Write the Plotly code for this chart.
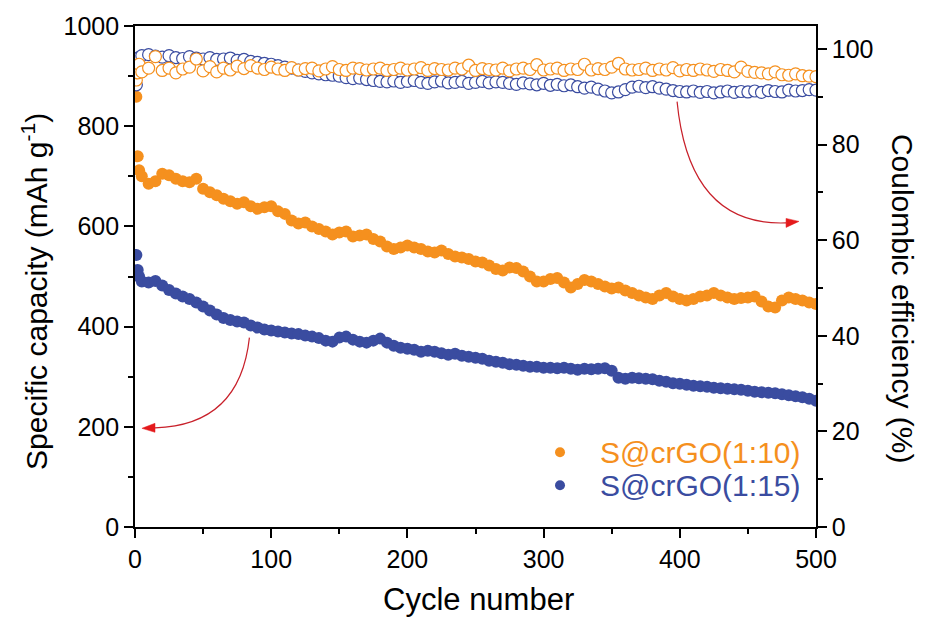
import plotly.graph_objects as go

# Cycle index: first three cycles, then every 5th cycle
cycles = [1, 2, 3] + list(range(5, 501, 5))

# Specific discharge capacity (mAh g-1)
cap_110 = [859, 740, 712,
           700, 685, 690, 705, 702, 695, 690, 688, 695, 675,
           668, 662, 655, 650, 645, 648, 640, 635, 638, 640,
           630, 625, 612, 606, 608, 600, 595, 590, 584, 588,
           590, 580, 582, 584, 575, 570, 560, 555, 558, 562,
           558, 555, 550, 548, 552, 545, 540, 538, 535, 530,
           528, 522, 515, 512, 518, 517, 510, 500, 490, 490,
           495, 497, 488, 478, 485, 493, 490, 485, 480, 476,
           478, 472, 467, 462, 458, 455, 462, 467, 460, 455,
           452, 455, 460, 462, 467, 462, 458, 455, 457, 458,
           460, 450, 440, 438, 452, 458, 455, 452, 448, 445]

cap_115 = [543, 513, 500,
           490, 488, 491, 482, 473, 466, 460, 455, 448, 440,
           432, 424, 417, 413, 410, 408, 402, 398, 394, 392,
           390, 388, 386, 385, 382, 380, 377, 372, 370, 378,
           380, 374, 370, 368, 372, 376, 368, 362, 358, 356,
           354, 350, 352, 350, 347, 344, 346, 342, 340, 338,
           336, 332, 330, 328, 325, 324, 322, 320, 320, 318,
           318, 317, 318, 316, 314, 316, 315, 316, 317, 312,
           298, 296, 298, 297, 296, 295, 292, 290, 287, 286,
           284, 282, 281, 280, 278, 277, 276, 275, 274, 272,
           270, 269, 268, 267, 265, 263, 261, 259, 256, 252]

# Coulombic efficiency (%)
ce_110 = [93.5, 95.0, 96.8,
          95.2, 96.0, 98.4, 95.5, 96.0, 95.0, 95.8, 96.2, 97.9, 95.4,
          96.3, 95.2, 96.0, 95.6, 96.4, 95.9, 96.5, 96.0, 95.7, 96.2,
          95.8, 95.5, 96.1, 95.6, 95.9, 96.0, 95.4, 95.8, 96.3, 95.7,
          95.5, 96.0, 95.9, 95.6, 95.8, 96.0, 95.5, 95.7, 96.0, 95.6,
          95.8, 96.1, 95.5, 95.9, 95.7, 95.6, 96.0, 95.8, 96.6, 95.5,
          95.9, 95.7, 95.6, 96.0, 95.4, 95.8, 96.0, 95.7, 96.7, 95.6,
          95.8, 96.0, 95.5, 95.8, 95.7, 96.8, 95.6, 95.9, 95.7, 96.2,
          97.0, 95.8, 95.6, 95.7, 96.0, 95.5, 95.8, 95.6, 96.1, 95.4,
          95.7, 95.5, 95.8, 95.6, 95.3, 95.7, 95.5, 95.2, 96.2, 95.3,
          95.1, 95.0, 94.8, 95.2, 94.6, 94.5, 94.8, 94.4, 94.3, 94.2]

ce_115 = [92.5, 97.0, 98.2,
          98.6, 98.8, 98.5, 98.3, 98.6, 98.2, 98.0, 98.4, 98.1, 97.9,
          98.2, 97.8, 97.9, 98.1, 97.6, 97.8, 97.4, 97.2, 97.0, 96.8,
          96.5, 96.2, 96.0, 95.6, 95.3, 95.0, 94.8, 94.6, 94.5, 94.3,
          94.0, 93.8, 93.9, 93.6, 93.4, 93.2, 93.1, 93.3, 93.0, 93.2,
          93.4, 93.0, 92.8, 93.1, 93.3, 92.9, 93.0, 93.2, 92.8, 93.0,
          93.2, 92.9, 93.1, 93.0, 92.8, 92.6, 92.9, 92.7, 92.5, 92.8,
          92.4, 92.6, 92.3, 92.5, 92.1, 91.8, 92.0, 91.6, 91.2, 90.8,
          91.0, 91.5, 92.0, 92.2, 91.9, 92.1, 91.8, 91.6, 91.3, 91.1,
          91.0, 91.2, 90.9, 91.1, 90.8, 91.0, 91.2, 90.9, 91.1, 91.0,
          91.2, 90.9, 91.3, 91.1, 91.0, 91.4, 91.2, 91.3, 91.5, 91.4]

series_labels = ["S@crGO(1:10)", "S@crGO(1:15)"]

ORANGE = "#F5901E"
BLUE = "#3A4CA0"
FONT = "Liberation Sans, Arial, sans-serif"

fig = go.Figure()

# Coulombic efficiency: open circles on the right axis
fig.add_trace(go.Scatter(
    x=cycles, y=ce_115, mode="markers", yaxis="y2", showlegend=False,
    marker=dict(symbol="circle", size=12, color="white",
                line=dict(color=BLUE, width=1.2))))
fig.add_trace(go.Scatter(
    x=cycles, y=ce_110, mode="markers", yaxis="y2", showlegend=False,
    marker=dict(symbol="circle", size=12, color="white",
                line=dict(color=ORANGE, width=1.2))))

# Specific capacity: filled circles on the left axis
fig.add_trace(go.Scatter(
    x=cycles, y=cap_110, mode="markers", name=series_labels[0],
    showlegend=False, marker=dict(symbol="circle", size=12, color=ORANGE)))
fig.add_trace(go.Scatter(
    x=cycles, y=cap_115, mode="markers", name=series_labels[1],
    showlegend=False, marker=dict(symbol="circle", size=12, color=BLUE)))

# Curved guide arrows pointing to each axis
CURVE = "#C8202A"
HEAD = "#E41A1C"
fig.add_shape(type="path", xref="x", yref="y",
              path="M 84,378 Q 77,203 14.7,198",
              line=dict(color=CURVE, width=1.2))
fig.add_shape(type="path", xref="x", yref="y",
              path="M 5.1,197 L 14.7,207 L 14.7,189 Z",
              line=dict(color=HEAD, width=0.5), fillcolor=HEAD)
fig.add_shape(type="path", xref="x", yref="y",
              path="M 398,849 Q 407,600 478,607",
              line=dict(color=CURVE, width=1.2))
fig.add_shape(type="path", xref="x", yref="y",
              path="M 487.5,610 L 478,616 L 478,598 Z",
              line=dict(color=HEAD, width=0.5), fillcolor=HEAD)

# Legend: coloured markers and labels inside the plot area
legend_rows = [(0.1491, ORANGE, series_labels[0]),
               (0.0835, BLUE, series_labels[1])]
annotations = []
for ypos, col, label in legend_rows:
    fig.add_shape(type="circle", xref="paper", yref="paper",
                  xsizemode="pixel", ysizemode="pixel",
                  xanchor=0.6241, yanchor=ypos,
                  x0=-5, x1=5, y0=-5, y1=5,
                  line=dict(color=col, width=0), fillcolor=col)
    annotations.append(dict(
        x=0.6799, y=ypos, xref="paper", yref="paper", text=label,
        showarrow=False, xanchor="left", yanchor="middle",
        font=dict(family=FONT, size=30, color=col)))

annotations += [
    dict(x=-0.147, y=0.471, xref="paper", yref="paper", textangle=-90,
         text="Specific capacity (mAh g<sup>-1</sup>)", showarrow=False,
         font=dict(family=FONT, size=30, color="black"),
         xanchor="center", yanchor="middle"),
    dict(x=1.128, y=0.455, xref="paper", yref="paper", textangle=90,
         text="Coulombic efficiency (%)", showarrow=False,
         font=dict(family=FONT, size=30, color="black"),
         xanchor="center", yanchor="middle"),
    dict(x=0.505, y=-0.145, xref="paper", yref="paper",
         text="Cycle number", showarrow=False,
         font=dict(family=FONT, size=31, color="black"),
         xanchor="center", yanchor="middle"),
]

axis_common = dict(
    showline=True, linecolor="black", linewidth=1.6,
    ticks="outside", ticklen=9, tickwidth=1.6, tickcolor="black",
    showgrid=False, zeroline=False,
    tickfont=dict(family=FONT, size=25, color="black"),
)

fig.update_layout(
    width=925, height=620,
    margin=dict(l=135, r=109, t=24, b=93),
    paper_bgcolor="white", plot_bgcolor="white",
    font=dict(family=FONT, color="black"),
    xaxis=dict(range=[0, 500], dtick=100, mirror=True,
               minor=dict(dtick=50, ticks="outside", ticklen=5,
                          tickwidth=1.6, tickcolor="black"),
               **axis_common),
    yaxis=dict(range=[0, 1000], dtick=200,
               minor=dict(dtick=100, ticks="outside", ticklen=5,
                          tickwidth=1.6, tickcolor="black"),
               **axis_common),
    yaxis2=dict(range=[0, 104.8], dtick=20, overlaying="y", side="right",
                minor=dict(dtick=10, ticks="outside", ticklen=5,
                           tickwidth=1.6, tickcolor="black"),
                **axis_common),
    annotations=annotations,
    showlegend=False,
)

fig.write_html("out.html")
